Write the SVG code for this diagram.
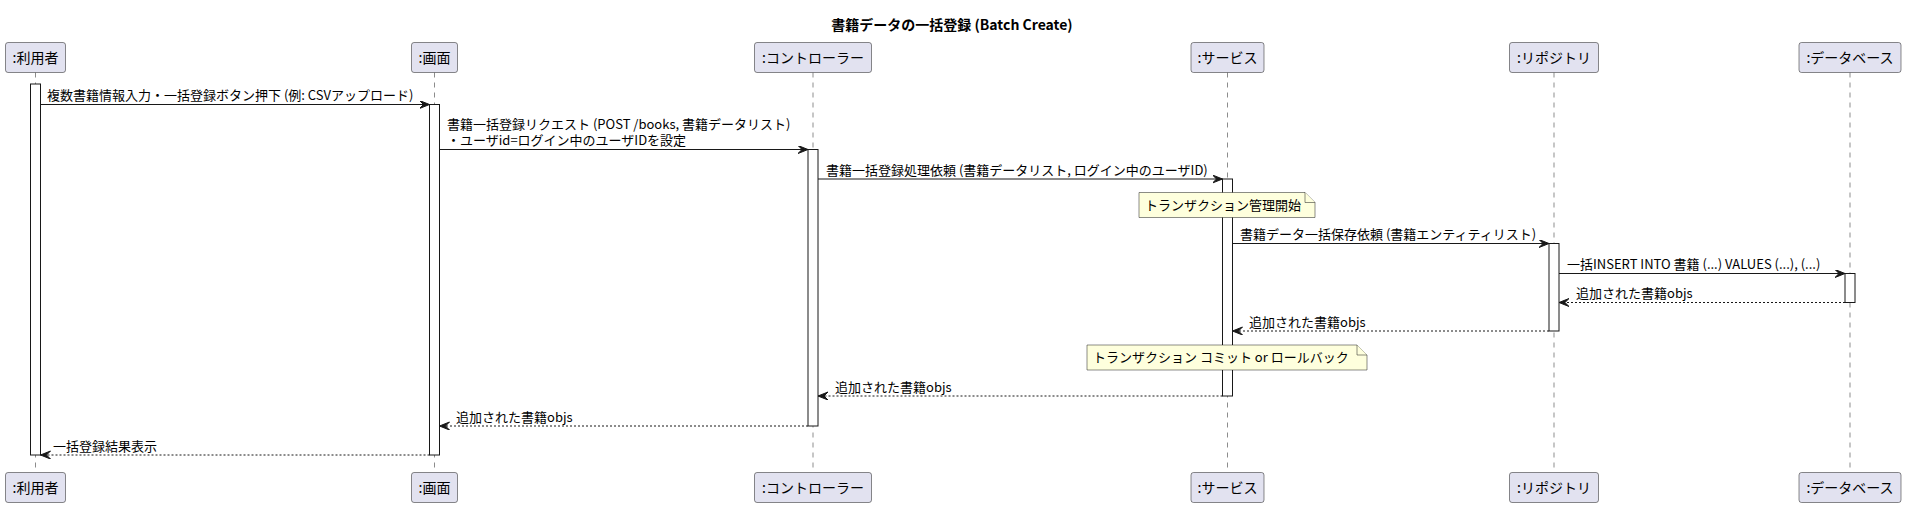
<svg xmlns="http://www.w3.org/2000/svg" width="1906" height="507" viewBox="0 0 1906 507">
<style>
text{font-family:"Noto Sans CJK JP","Noto Sans",sans-serif;fill:#000}
.title{font-size:14px;font-weight:bold;text-anchor:middle}
.pbox{fill:#E2E2F0;stroke:#181818;stroke-width:0.5}
.ptxt{font-size:14px;text-anchor:middle}
.life{stroke:#181818;stroke-width:0.5;stroke-dasharray:5,5;fill:none}
.act{fill:#FFFFFF;stroke:#181818;stroke-width:1}
.msg{stroke:#181818;stroke-width:1;fill:none;marker-end:url(#ah)}
.ret{stroke:#181818;stroke-width:1;fill:none;stroke-dasharray:2,2;marker-end:url(#ah)}
.mtxt{font-size:13px}
.note{fill:#FEFFDD;stroke:#181818;stroke-width:0.5}
</style>
<defs>
<marker id="ah" markerUnits="userSpaceOnUse" markerWidth="11" markerHeight="9" refX="10" refY="4" orient="auto" viewBox="0 0 11 9">
<path d="M0,0 L10,4 L0,8 L4,4 Z" fill="#181818" stroke="#181818" stroke-width="1"/>
</marker>
</defs>
<rect width="1906" height="507" fill="#FFFFFF"/>
<text class="title" x="952" y="30">書籍データの一括登録 (Batch Create)</text>

<g id="lifelines">
<line class="life" x1="35.5" y1="72.5" x2="35.5" y2="472.5"/>
<line class="life" x1="434.5" y1="72.5" x2="434.5" y2="472.5"/>
<line class="life" x1="813" y1="72.5" x2="813" y2="472.5"/>
<line class="life" x1="1227.5" y1="72.5" x2="1227.5" y2="472.5"/>
<line class="life" x1="1554" y1="72.5" x2="1554" y2="472.5"/>
<line class="life" x1="1850" y1="72.5" x2="1850" y2="472.5"/>
</g>

<g id="user">
<rect class="pbox" x="5.5" y="42.5" width="60" height="30" rx="2.5"/>
<text class="ptxt" x="35.5" y="62.5">:利用者</text>
<rect class="pbox" x="5.5" y="472.5" width="60" height="30" rx="2.5"/>
<text class="ptxt" x="35.5" y="492.5">:利用者</text>
<rect class="act" x="30.5" y="84" width="10" height="371"/>
</g>
<g id="screen">
<rect class="pbox" x="411.5" y="42.5" width="46" height="30" rx="2.5"/>
<text class="ptxt" x="434.5" y="62.5">:画面</text>
<rect class="pbox" x="411.5" y="472.5" width="46" height="30" rx="2.5"/>
<text class="ptxt" x="434.5" y="492.5">:画面</text>
<rect class="act" x="429.5" y="104.5" width="10" height="350.5"/>
</g>
<g id="controller">
<rect class="pbox" x="754.5" y="42.5" width="117" height="30" rx="2.5"/>
<text class="ptxt" x="813" y="62.5">:コントローラー</text>
<rect class="pbox" x="754.5" y="472.5" width="117" height="30" rx="2.5"/>
<text class="ptxt" x="813" y="492.5">:コントローラー</text>
<rect class="act" x="808" y="149.5" width="10" height="276.5"/>
</g>
<g id="service">
<rect class="pbox" x="1191" y="42.5" width="73" height="30" rx="2.5"/>
<text class="ptxt" x="1227.5" y="62.5">:サービス</text>
<rect class="pbox" x="1191" y="472.5" width="73" height="30" rx="2.5"/>
<text class="ptxt" x="1227.5" y="492.5">:サービス</text>
<rect class="act" x="1222.5" y="179" width="10" height="217"/>
</g>
<g id="repository">
<rect class="pbox" x="1509.5" y="42.5" width="89" height="30" rx="2.5"/>
<text class="ptxt" x="1554" y="62.5">:リポジトリ</text>
<rect class="pbox" x="1509.5" y="472.5" width="89" height="30" rx="2.5"/>
<text class="ptxt" x="1554" y="492.5">:リポジトリ</text>
<rect class="act" x="1549" y="243.5" width="10" height="87.5"/>
</g>
<g id="database">
<rect class="pbox" x="1799" y="42.5" width="102" height="30" rx="2.5"/>
<text class="ptxt" x="1850" y="62.5">:データベース</text>
<rect class="pbox" x="1799" y="472.5" width="102" height="30" rx="2.5"/>
<text class="ptxt" x="1850" y="492.5">:データベース</text>
<rect class="act" x="1845" y="273.5" width="10" height="29"/>
</g>

<g id="note1">
<path class="note" d="M1139,192.5 L1139,217.5 L1315,217.5 L1315,202.5 L1305,192.5 Z"/>
<path class="note" d="M1305,192.5 L1305,202.5 L1315,202.5" fill="none"/>
<text class="mtxt" x="1145" y="209.5">トランザクション管理開始</text>
</g>
<g id="note2">
<path class="note" d="M1087,345 L1087,370 L1367,370 L1367,355 L1357,345 Z"/>
<path class="note" d="M1357,345 L1357,355 L1367,355" fill="none"/>
<text class="mtxt" x="1093" y="362">トランザクション コミット or ロールバック</text>
</g>

<g id="connectors">
<line class="msg" x1="40.5" y1="104.5" x2="429.5" y2="104.5"/>
<text class="mtxt" x="47" y="100">複数書籍情報入力・一括登録ボタン押下 (例: CSVアップロード)</text>

<line class="msg" x1="439.5" y1="149.5" x2="808" y2="149.5"/>
<text class="mtxt" x="447" y="129">書籍一括登録リクエスト (POST /books, 書籍データリスト)</text>
<text class="mtxt" x="447" y="144.5">・ユーザid=ログイン中のユーザIDを設定</text>

<line class="msg" x1="818" y1="179" x2="1222.5" y2="179"/>
<text class="mtxt" x="826" y="174.5">書籍一括登録処理依頼 (書籍データリスト, ログイン中のユーザID)</text>

<line class="msg" x1="1232.5" y1="243.5" x2="1549" y2="243.5"/>
<text class="mtxt" x="1240" y="239">書籍データ一括保存依頼 (書籍エンティティリスト)</text>

<line class="msg" x1="1559" y1="273.5" x2="1845" y2="273.5"/>
<text class="mtxt" x="1567" y="269">一括INSERT INTO 書籍 (...) VALUES (...), (...)</text>

<line class="ret" x1="1845" y1="302.5" x2="1559" y2="302.5"/>
<text class="mtxt" x="1576" y="298">追加された書籍objs</text>

<line class="ret" x1="1549" y1="331" x2="1232.5" y2="331"/>
<text class="mtxt" x="1249" y="326.5">追加された書籍objs</text>

<line class="ret" x1="1222.5" y1="396" x2="818" y2="396"/>
<text class="mtxt" x="835" y="391.5">追加された書籍objs</text>

<line class="ret" x1="808" y1="426" x2="439.5" y2="426"/>
<text class="mtxt" x="456" y="421.5">追加された書籍objs</text>

<line class="ret" x1="429.5" y1="455" x2="40.5" y2="455"/>
<text class="mtxt" x="53" y="450.5">一括登録結果表示</text>
</g>
</svg>
